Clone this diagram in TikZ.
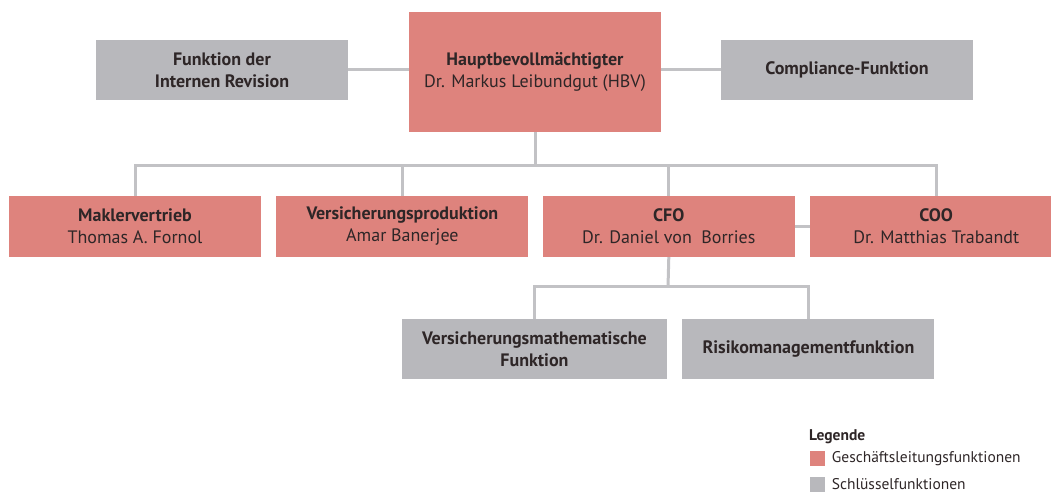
\documentclass[tikz,border=0pt]{standalone}
\usepackage{fontspec}
\setmainfont{PT Sans}
\usepackage{xcolor}
\usetikzlibrary{positioning}
\definecolor{leitung}{HTML}{DE837D}
\definecolor{schluessel}{HTML}{B8B8BC}
\definecolor{linie}{HTML}{C2C2C5}
\definecolor{schrift}{HTML}{2E2627}

\begin{document}
\begin{tikzpicture}[x=1pt,y=1pt,
    every node/.style={inner sep=0pt,text=schrift,align=center,
      font=\fontsize{18}{22}\selectfont},
    gl/.style={fill=leitung,minimum width=252pt,minimum height=61pt},
    sf/.style={fill=schluessel,minimum width=252pt,minimum height=60pt},
    verb/.style={draw=linie,line width=3pt},
    legtext/.style={anchor=west,font=\fontsize{15.5}{18}\selectfont}]
    \useasboundingbox (0,0) rectangle (1051,494);
    % obere Ebene
    \node[gl,minimum height=120pt] (hbv) at (535,422)
      {\textbf{Hauptbevollmächtigter}\\Dr. Markus Leibundgut (HBV)};
    \node[sf] (revision) at (222,424) {\textbf{Funktion der}\\\textbf{Internen Revision}};
    \node[sf] (compliance) at (847,424) {\textbf{Compliance-Funktion}};
    % Geschaeftsleitung
    \node[gl] (makler) at (135,267.5) {\textbf{Maklervertrieb}\\Thomas A. Fornol};
    \node[gl,right=15pt of makler] (produktion) {\textbf{Versicherungsproduktion}\\Amar Banerjee};
    \node[gl,right=14pt of produktion] (cfo) {\textbf{CFO}\\Dr. Daniel von\ \ Borries};
    \node[gl,right=15pt of cfo] (coo) {\textbf{COO}\\Dr. Matthias Trabandt};
    % Schluesselfunktionen unter CFO
    \node[sf,minimum width=265pt] (aktuar) at (534.5,145)
      {\textbf{Versicherungsmathematische}\\\textbf{Funktion}};
    \node[sf,right=15pt of aktuar] (risiko) {\textbf{Risikomanagementfunktion}};
    \coordinate (bus) at (535,328);
    \coordinate (cfobus) at (668,207);
    % Verbindungen
    \draw[verb] (revision.east) -- (revision.east -| hbv.west);
    \draw[verb] (compliance.west) -- (compliance.west -| hbv.east);
    \draw[verb] (hbv.south) -- (bus);
    \draw[verb] (makler.north) |- (bus) -| (coo.north);
    \draw[verb] (produktion.north) -- (produktion.north |- bus);
    \draw[verb] (cfo.north) -- (cfo.north |- bus);
    \draw[verb] (cfo.east) -- (coo.west);
    \draw[verb] (cfo.south) -- (cfobus);
    \draw[verb] (aktuar.north) |- (cfobus) -| (risiko.north);
    % Legende
    \node[anchor=base west,font=\fontsize{15.5}{18}\selectfont\bfseries] (legende) at (809,53) {Legende};
    \node[fill=leitung,minimum size=15pt] (kasten1) at (817,35.5) {};
    \node[fill=schluessel,minimum size=15pt] (kasten2) at (817,9.5) {};
    \node[legtext,right=7pt of kasten1] (text1) {Geschäftsleitungsfunktionen};
    \node[legtext,right=7pt of kasten2] (text2) {Schlüsselfunktionen};
  \end{tikzpicture}
\end{document}
